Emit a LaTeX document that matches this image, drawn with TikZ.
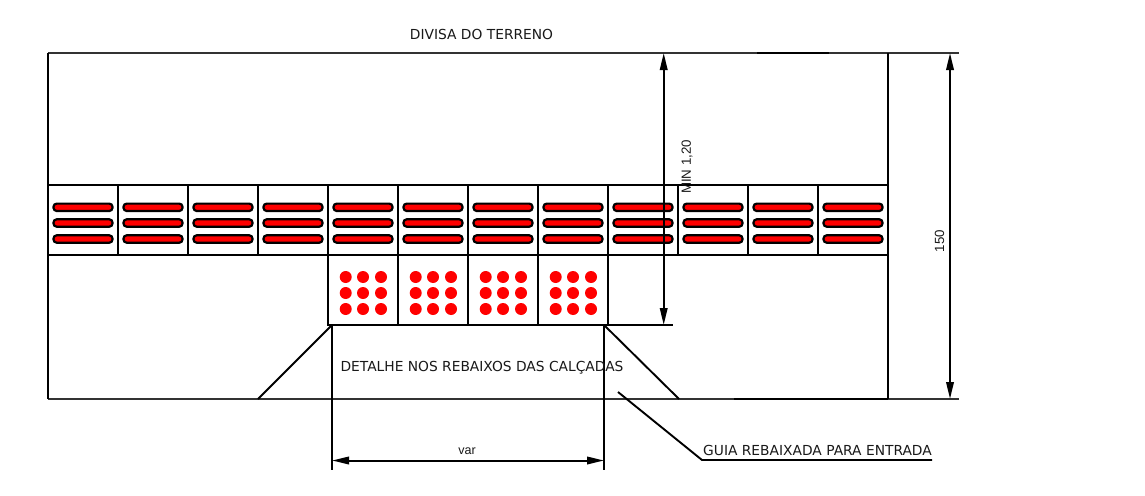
\documentclass[tikz,border=0pt]{standalone}
\usepackage{fontspec}
\setmainfont{DejaVu Sans}
\newfontfamily\arialf{Liberation Sans}
\usetikzlibrary{arrows.meta}
\tikzset{
  ln/.style={draw=black,line width=1.9pt},
  thin ln/.style={draw=black!80,line width=1.5pt},
  dim/.style={draw=black,line width=2pt,{Triangle[length=17pt,width=7.5pt]}-{Triangle[length=17pt,width=7.5pt]}},
  pill/.style={draw=black,fill=red,line width=2.2pt,rounded corners=3.2pt},
  dot/.style={fill=red,draw=none},
  lab/.style={inner sep=0pt,text=black!90,font=\fontsize{13.8pt}{15pt}\selectfont},
  rlab/.style={inner sep=0pt,text=black!90,rotate=90,font=\arialf\fontsize{13.3pt}{15pt}\selectfont}
}
\begin{document}
\begin{tikzpicture}[x=1pt,y=-1pt]
\useasboundingbox[fill=white] (0,0) rectangle (1145,495);
% outer outline
\draw[thin ln] (48,53) -- (959,53);
\draw[thin ln] (48,399) -- (959,399);
\draw[ln] (48,53) -- (48,399);
\draw[ln] (888,53) -- (888,399);
\draw[ln,line width=2.2pt] (757,53) -- (829,53);
\draw[ln,line width=2.2pt] (734,399) -- (888,399);
% guide band
\foreach \i in {0,...,11}{
  \pgfmathsetmacro\xa{48+70*\i}
  \draw[ln] (\xa,185) rectangle (\xa+70,255);
  \foreach \yy in {207.3,223,239}{
    \draw[pill] (\xa+5.5,\yy-3.7) rectangle (\xa+64.5,\yy+3.7);
  }
}
% warning cells
\foreach \i in {0,...,3}{
  \pgfmathsetmacro\xa{328+70*\i}
  \draw[ln] (\xa,255) rectangle (\xa+70,325);
  \foreach \dx in {17.7,35,53}{
    \foreach \yy in {277,293,309}{
      \fill[dot] (\xa+\dx,\yy) circle (6);
    }
  }
}
\draw[ln] (328,325) -- (673,325);
% ramps
\draw[ln] (332,325) -- (258,399);
\draw[ln] (604,325) -- (679,399);
% dimension min 1,20
\draw[dim] (663.7,53) -- (663.7,325);
% dimension 150
\draw[dim] (950,53) -- (950,399);
% dimension var
\draw[ln] (332,325) -- (332,470);
\draw[ln] (604,325) -- (604,470);
\draw[dim] (332,460.5) -- (604,460.5);
% leader
\draw[ln] (618,392) -- (702,460) -- (932,460);
% labels
\node[lab] (t1) at (481.5,34) {DIVISA DO TERRENO};
\node[lab] (t2) at (482,368) {DETALHE NOS REBAIXOS DAS CALÇADAS};
\node[lab] (t3) at (817.5,450) {GUIA REBAIXADA PARA ENTRADA};
\node[lab,font=\arialf\fontsize{12.5pt}{14pt}\selectfont] (t4) at (467,451.5) {var};
\node[rlab] (t5) at (687,167) {MIN 1,20};
\node[rlab] (t6) at (939.5,241) {150};
\end{tikzpicture}
\end{document}
